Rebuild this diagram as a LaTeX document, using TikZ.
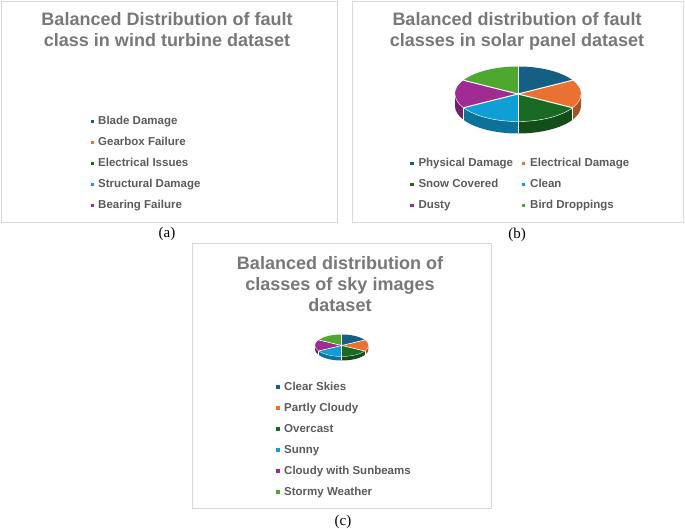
\documentclass[tikz,border=0pt]{standalone}
\usepackage{fontspec}
\setmainfont{Liberation Serif}
\newfontfamily\chartfont{Liberation Sans}
\definecolor{c1}{HTML}{156082}
\definecolor{c2}{HTML}{E97132}
\definecolor{c3}{HTML}{196B24}
\definecolor{c4}{HTML}{0F9ED5}
\definecolor{c5}{HTML}{A02B93}
\definecolor{c6}{HTML}{4EA72E}
\definecolor{boxgray}{HTML}{D9D9D9}
\definecolor{titlegray}{HTML}{787878}
\definecolor{leggray}{HTML}{5C5C5C}
\newcommand\mypie[6]{%
\begin{scope}[shift={(#1,#2)}]
 \foreach \a/\b/\c in {0/-30/c2,-30/-90/c3,-90/-150/c4,-150/-180/c5}{
   \fill[\c!72!black] (\a:#3 and #4) arc[start angle=\a, end angle=\b, x radius=#3, y radius=#4] -- ++(0,-#5) arc[start angle=\b, end angle=\a, x radius=#3, y radius=#4] -- cycle;
 }
 \foreach \a in {-30,-90,-150}{\draw[white, line width=#6] (\a:#3 and #4) -- ++(0,-#5);}
 \foreach \a/\b/\c in {90/30/c1,30/-30/c2,-30/-90/c3,-90/-150/c4,-150/-210/c5,150/90/c6}{
   \fill[\c] (0,0) -- (\a:#3 and #4) arc[start angle=\a, end angle=\b, x radius=#3, y radius=#4] -- cycle;
 }
 \foreach \a in {90,30,-30,-90,-150,150}{\draw[white, line width=#6] (0,0) -- (\a:#3 and #4);}
 \draw[white, line width=0.4*#6] (0:#3 and #4) arc[start angle=0, end angle=-180, x radius=#3, y radius=#4];
\end{scope}}
\begin{document}
\begin{tikzpicture}[x=1pt,y=1pt,
  panel/.style={draw=boxgray, line width=0.9pt},
  ttl/.style={font=\chartfont\bfseries\fontsize{18}{21}\selectfont, text=titlegray, align=center, anchor=base, inner sep=0pt},
  leg/.style={font=\chartfont\bfseries\fontsize{11.5}{13}\selectfont, text=leggray, anchor=base west, inner sep=0pt},
  mk/.style={fill=#1, minimum size=3.6pt, inner sep=0pt, draw=none},
  captext/.style={font=\fontsize{15}{17}\selectfont, inner sep=0pt}]
\useasboundingbox (0,0) rectangle (685,529);
\fill[white] (0,0) rectangle (685,529);
% panels
\draw[panel] (1,528) rectangle (337,307);
\draw[panel] (352,528) rectangle (683,307);
\draw[panel] (192,286) rectangle (491,21);
% titles (anchor base = baseline of last line)
\node[ttl] (ta) at (167,482) {Balanced Distribution of fault\\class in wind turbine dataset};
\node[ttl] (tb) at (517,482) {Balanced distribution of fault\\classes in solar panel dataset};
\node[ttl] (tc) at (340,217.5) {Balanced distribution of\\classes of sky images\\dataset};
% pies
\mypie{518}{435}{63}{27.5}{12}{1}
\mypie{341.7}{183.5}{26.7}{11}{4}{0.6}
% legend a
\node[mk=c1] (ma1) at (92.5,407.5) {}; \node[leg] (la1) at (98,404) {Blade Damage};
\node[mk=c2] (ma2) at (92.5,386.5) {}; \node[leg] (la2) at (98,383) {Gearbox Failure};
\node[mk=c3] (ma3) at (92.5,365.5) {}; \node[leg] (la3) at (98,362) {Electrical Issues};
\node[mk=c4] (ma4) at (92.5,344.5) {}; \node[leg] (la4) at (98,341) {Structural Damage};
\node[mk=c5] (ma5) at (92.5,323.5) {}; \node[leg] (la5) at (98,320) {Bearing Failure};
% legend b
\node[mk=c1] (mb1) at (411.7,365.5) {}; \node[leg] (lb1) at (418.3,362) {Physical Damage};
\node[mk=c2] (mb2) at (523.3,365.5) {}; \node[leg] (lb2) at (530,362) {Electrical Damage};
\node[mk=c3] (mb3) at (411.7,344.5) {}; \node[leg] (lb3) at (418.3,341) {Snow Covered};
\node[mk=c4] (mb4) at (523.3,344.5) {}; \node[leg] (lb4) at (530,341) {Clean};
\node[mk=c5] (mb5) at (411.7,323.5) {}; \node[leg] (lb5) at (418.3,320) {Dusty};
\node[mk=c6] (mb6) at (523.3,323.5) {}; \node[leg] (lb6) at (530,320) {Bird Droppings};
% legend c
\node[mk=c1] (mc1) at (277.7,142) {}; \node[leg] (lc1) at (284,138.5) {Clear Skies};
\node[mk=c2] (mc2) at (277.7,121) {}; \node[leg] (lc2) at (284,117.5) {Partly Cloudy};
\node[mk=c3] (mc3) at (277.7,100) {}; \node[leg] (lc3) at (284,96.5) {Overcast};
\node[mk=c4] (mc4) at (277.7,79) {}; \node[leg] (lc4) at (284,75.5) {Sunny};
\node[mk=c5] (mc5) at (277.7,58) {}; \node[leg] (lc5) at (284,54.5) {Cloudy with Sunbeams};
\node[mk=c6] (mc6) at (277.7,37) {}; \node[leg] (lc6) at (284,33.5) {Stormy Weather};
% captions
\node[captext] (capa) at (167,295) {(a)};
\node[captext] (capb) at (517,294) {(b)};
\node[captext] (capc) at (343,7) {(c)};
\end{tikzpicture}
\end{document}
